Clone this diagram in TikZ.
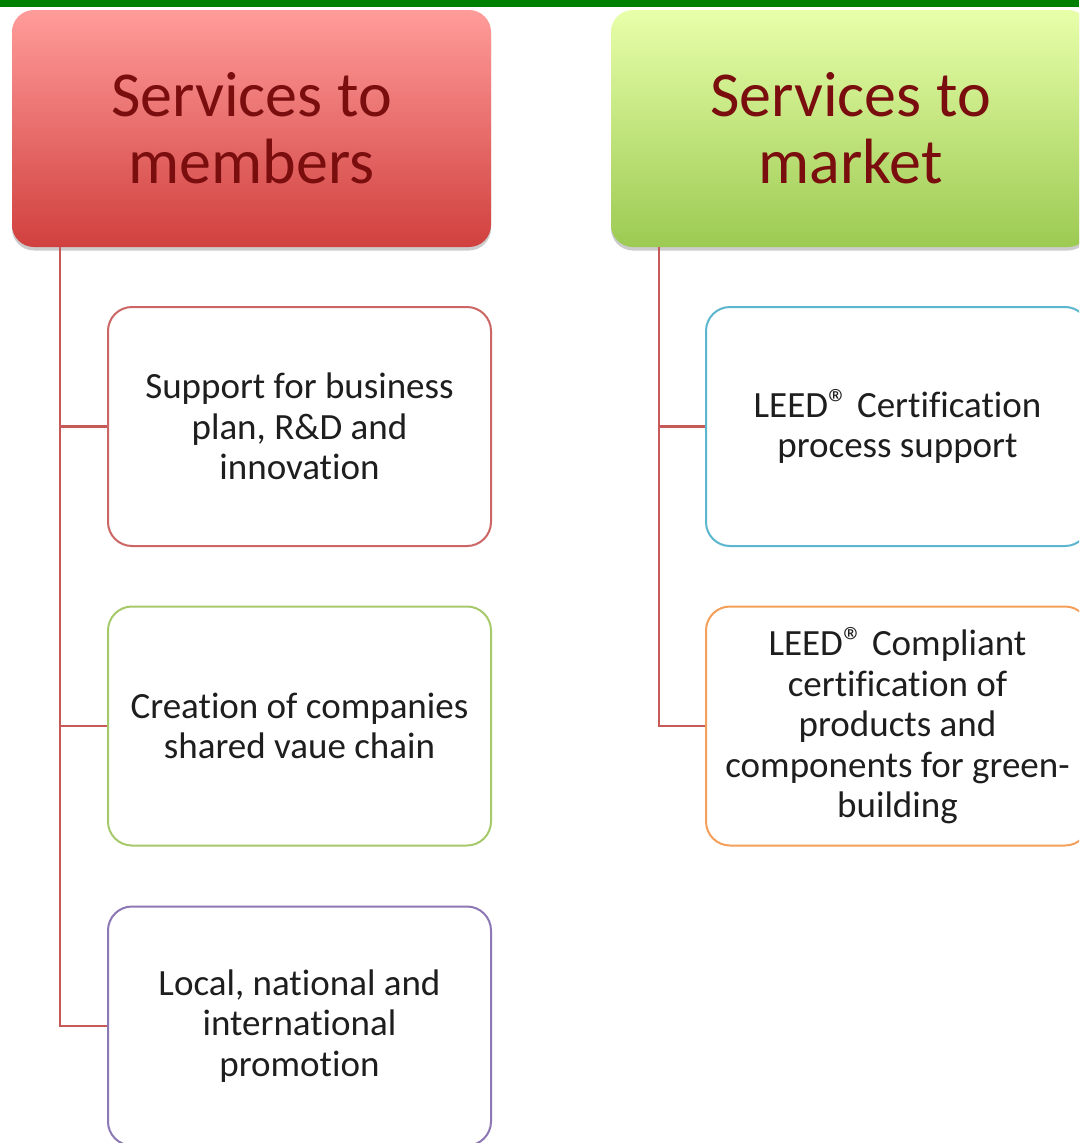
\documentclass[tikz,border=0pt]{standalone}
\usepackage{fontspec}
\setmainfont{Carlito}[Ligatures=NoCommon]
\usetikzlibrary{shadows}
\definecolor{barG}{HTML}{008000}
\definecolor{redTop}{HTML}{FF9C9A}
\definecolor{redBot}{HTML}{D0403E}
\definecolor{grnTop}{HTML}{E8FFAA}
\definecolor{grnBot}{HTML}{9CCA52}
\definecolor{headTxt}{HTML}{7A0E0E}
\definecolor{connC}{HTML}{C65A58}
\definecolor{bRed}{HTML}{CC6664}
\definecolor{bGrn}{HTML}{A6C96C}
\definecolor{bPur}{HTML}{8C78B4}
\definecolor{bBlu}{HTML}{5CB6CE}
\definecolor{bOra}{HTML}{F4A05A}
\definecolor{bodyTxt}{HTML}{1E1E1E}
\newcommand\regmark{\scalebox{1.1}{®}}
\tikzset{
  header/.style={rounded corners=22pt, minimum width=479pt, minimum height=237pt,
    inner sep=0pt, align=center, text=headTxt,
    font=\fontsize{64}{67}\selectfont,
    drop shadow={opacity=0.4, shadow xshift=0pt, shadow yshift=-3.5pt}},
  child/.style={rounded corners=24pt, minimum width=383pt, minimum height=239pt,
    inner sep=0pt, align=center, text=bodyTxt, line width=2pt, fill=white,
    font=\fontsize{37}{40.5}\selectfont},
  conn/.style={draw=connC, line width=2.2pt}
}
\begin{document}
\begin{tikzpicture}[x=1pt,y=-1pt]
\useasboundingbox (0,0) rectangle (1079,1143);
\clip (0,0) rectangle (1079,1143);
\fill[white] (0,0) rectangle (1079,1143);
\fill[barG] (0,0) rectangle (1079,7);
\node[header, top color=redTop, bottom color=redBot] (h1) at (251.5,128.5) {Services to\\members};
\node[header, top color=grnTop, bottom color=grnBot] (h2) at (850.5,128.5) {Services to\\market};
\node[child, draw=bRed] (c1) at (299.5,426.5) {Support for business\\plan, R\&D and\\innovation};
\node[child, draw=bGrn] (c2) at (299.5,726) {Creation of companies\\shared vaue chain};
\node[child, draw=bPur] (c3) at (299.5,1026) {Local, national and\\international\\promotion};
\node[child, draw=bBlu] (d1) at (897.5,426.5) {LEED\regmark{} Certification\\process support};
\node[child, draw=bOra] (d2) at (897.5,726) {LEED\regmark{} Compliant\\certification of\\products and\\components for green-\\building};
\draw[conn] ([xshift=48pt]h1.south west) |- (c1.west);
\draw[conn] ([xshift=48pt]h1.south west) |- (c2.west);
\draw[conn] ([xshift=48pt]h1.south west) |- (c3.west);
\draw[conn] ([xshift=48pt]h2.south west) |- (d1.west);
\draw[conn] ([xshift=48pt]h2.south west) |- (d2.west);
\end{tikzpicture}
\end{document}
